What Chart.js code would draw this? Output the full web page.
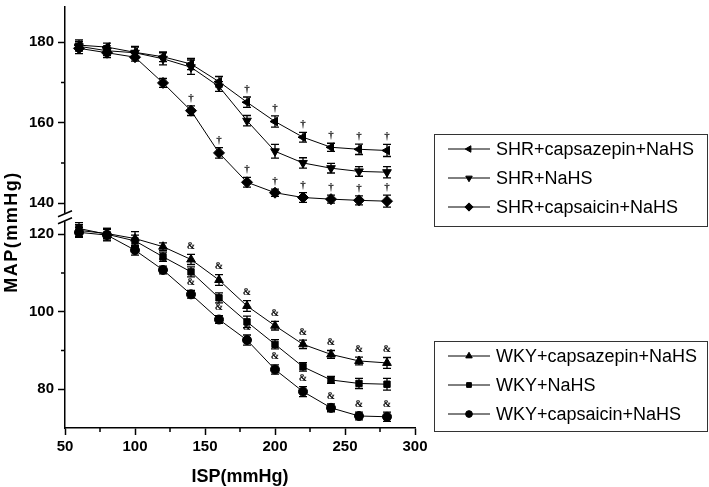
<!DOCTYPE html>
<html lang="en">
  <head>
    <meta charset="utf-8" />
    <title>MAP vs ISP</title>
    <script src="https://cdn.jsdelivr.net/npm/chart.js/dist/chart.umd.min.js"></script>
    <style>
      * {
        margin: 0;
        padding: 0;
      }
      body {
        background: #fff;
      }
      .chartBox {
        width: 709px;
        height: 487px;
      }
    </style>
  </head>
  <body>
    <div class="chartBox">
      <canvas id="myChart"></canvas>
    </div>

    <script>
      const FONT = 'Arial, "Liberation Sans", sans-serif';

      // ISP values (x axis)
      const isp = [60, 80, 100, 120, 140, 160, 180, 200, 220, 240, 260, 280];

      // SHR groups (upper panel)
      const shrCapsazepin = [179.3, 178.8, 177.5, 176.4, 174.6, 170.2, 165.1, 160.3, 156.4, 153.9, 153.4, 153.1];
      const shrCapsazepinErr = [1.3, 1.0, 1.5, 1.2, 1.4, 1.3, 1.3, 1.4, 1.2, 1.0, 1.3, 1.5];
      const shrNahs = [179.0, 177.9, 177.4, 175.9, 173.8, 169.0, 160.5, 152.9, 150.0, 148.7, 147.9, 147.7];
      const shrNahsErr = [1.2, 1.2, 1.4, 1.5, 1.8, 1.2, 1.3, 1.7, 1.3, 1.2, 1.2, 1.4];
      const shrCapsaicin = [178.5, 177.4, 176.3, 169.9, 163.0, 152.5, 145.2, 142.6, 141.4, 141.0, 140.7, 140.5];
      const shrCapsaicinErr = [1.3, 1.2, 1.0, 1.1, 1.2, 1.3, 1.2, 0.9, 1.2, 1.0, 1.1, 1.5];

      // WKY groups (lower panel)
      const wkyCapsazepin = [121.0, 120.2, 118.9, 116.8, 113.5, 108.2, 101.5, 96.4, 91.6, 89.0, 87.3, 86.8];
      const wkyCapsazepinErr = [1.5, 1.3, 1.8, 1.0, 1.3, 1.4, 1.4, 1.1, 1.1, 1.0, 1.0, 1.4];
      const wkyNahs = [121.5, 120.0, 118.3, 114.2, 110.3, 103.6, 97.4, 91.6, 85.8, 82.4, 81.5, 81.3];
      const wkyNahsErr = [1.5, 1.5, 1.5, 1.2, 1.3, 1.3, 1.5, 1.2, 1.1, 0.9, 1.3, 1.5];
      const wkyCapsaicin = [120.5, 119.8, 115.9, 110.8, 104.5, 98.0, 92.7, 85.1, 79.4, 75.2, 73.1, 72.9];
      const wkyCapsaicinErr = [1.3, 1.5, 1.3, 1.0, 1.0, 1.0, 1.3, 1.2, 1.3, 1.0, 1.0, 1.2];

      // significance marks
      const shrCapsazepinMarks = ["", "", "", "", "", "", "†", "†", "†", "†", "†", "†"];
      const shrCapsaicinMarks = ["", "", "", "", "†", "†", "†", "†", "†", "†", "†", "†"];
      const wkyCapsazepinMarks = ["", "", "", "", "&", "&", "&", "&", "&", "&", "&", "&"];
      const wkyCapsaicinMarks = ["", "", "", "&", "&", "&", "&", "&", "&", "&", "&", "&"];

      // axis ticks
      const xTicks = [50, 75, 100, 125, 150, 175, 200, 225, 250, 275, 300];
      const shrTicks = [140, 150, 160, 170, 180];
      const wkyTicks = [80, 90, 100, 110, 120];

      const toPoints = (vals) => vals.map((v, i) => ({ x: isp[i], y: v }));

      const series = (label, vals, err, marks, axis, style, rotation, radius) => ({
        label: label,
        data: toPoints(vals),
        err: err,
        marks: marks,
        yAxisID: axis,
        borderColor: "#000",
        backgroundColor: "#000",
        borderWidth: 1,
        pointStyle: style,
        rotation: rotation,
        pointRadius: radius,
        pointBorderWidth: 1,
        tension: 0,
      });

      const datasets = [
        series("SHR+capsazepin+NaHS", shrCapsazepin, shrCapsazepinErr, shrCapsazepinMarks, "yShr", "triangle", -90, 5),
        series("SHR+NaHS", shrNahs, shrNahsErr, null, "yShr", "triangle", 180, 5),
        series("SHR+capsaicin+NaHS", shrCapsaicin, shrCapsaicinErr, shrCapsaicinMarks, "yShr", "rectRot", 0, 5.5),
        series("WKY+capsazepin+NaHS", wkyCapsazepin, wkyCapsazepinErr, wkyCapsazepinMarks, "yWky", "triangle", 0, 5),
        series("WKY+NaHS", wkyNahs, wkyNahsErr, null, "yWky", "rect", 0, 4.5),
        series("WKY+capsaicin+NaHS", wkyCapsaicin, wkyCapsaicinErr, wkyCapsaicinMarks, "yWky", "circle", 0, 4.5),
      ];

      const errorBarPlugin = {
        id: "errorBars",
        beforeDatasetsDraw(chart) {
          const ctx = chart.ctx;
          ctx.save();
          ctx.strokeStyle = "#000";
          ctx.lineWidth = 1.3;
          chart.data.datasets.forEach((ds, i) => {
            const meta = chart.getDatasetMeta(i);
            const scale = chart.scales[ds.yAxisID];
            meta.data.forEach((pt, j) => {
              const v = ds.data[j].y;
              const top = scale.getPixelForValue(v + ds.err[j]);
              const bot = scale.getPixelForValue(v - ds.err[j]);
              ctx.beginPath();
              ctx.moveTo(pt.x, top);
              ctx.lineTo(pt.x, bot);
              ctx.moveTo(pt.x - 4, top);
              ctx.lineTo(pt.x + 4, top);
              ctx.moveTo(pt.x - 4, bot);
              ctx.lineTo(pt.x + 4, bot);
              ctx.stroke();
            });
          });
          ctx.restore();
        },
        afterDatasetsDraw(chart) {
          const ctx = chart.ctx;
          ctx.save();
          ctx.fillStyle = "#000";
          ctx.textAlign = "center";
          ctx.textBaseline = "middle";
          chart.data.datasets.forEach((ds, i) => {
            if (!ds.marks) return;
            const meta = chart.getDatasetMeta(i);
            const scale = chart.scales[ds.yAxisID];
            ctx.font = ds.yAxisID === "yShr" ? "bold 11px 'Liberation Serif', serif" : "bold 10px 'Liberation Serif', serif";
            meta.data.forEach((pt, j) => {
              if (!ds.marks[j]) return;
              const top = scale.getPixelForValue(ds.data[j].y + ds.err[j]);
              ctx.fillText(ds.marks[j], pt.x, top - 8);
            });
          });
          ctx.restore();
        },
      };

      const legendBoxes = [
        { x: 434, y: 134, w: 273, h: 92, items: [0, 1, 2] },
        { x: 434, y: 341, w: 273, h: 90, items: [3, 4, 5] },
      ];

      const extrasPlugin = {
        id: "extras",
        afterDraw(chart) {
          const ctx = chart.ctx;
          const xs = chart.scales.x;
          const ysh = chart.scales.yShr;
          const ywk = chart.scales.yWky;
          const area = chart.chartArea;
          const left = area.left;
          ctx.save();
          ctx.strokeStyle = "#000";
          ctx.lineWidth = 1.5;

          // minor ticks
          ctx.beginPath();
          xs.ticks.forEach((t) => {
            if (t.value % 50 !== 0) {
              const px = xs.getPixelForValue(t.value);
              ctx.moveTo(px, xs.top);
              ctx.lineTo(px, xs.top + 4);
            }
          });
          [ysh, ywk].forEach((s) => {
            s.ticks.forEach((t) => {
              if (t.value % 20 !== 0) {
                const py = s.getPixelForValue(t.value);
                ctx.moveTo(left, py);
                ctx.lineTo(left - 4, py);
              }
            });
          });
          ctx.stroke();

          // axis break
          const by = ysh.bottom;
          ctx.fillStyle = "#fff";
          ctx.fillRect(left - 3, by - 4, 6, 8);
          ctx.lineWidth = 1.5;
          ctx.beginPath();
          ctx.moveTo(left - 7, by - 0.5);
          ctx.lineTo(left + 7, by - 6.5);
          ctx.moveTo(left - 7, by + 6.5);
          ctx.lineTo(left + 7, by + 0.5);
          ctx.stroke();

          // axis titles
          ctx.fillStyle = "#000";
          ctx.font = "bold 18px " + FONT;
          ctx.textAlign = "center";
          ctx.textBaseline = "middle";
          ctx.fillText("ISP(mmHg)", (area.left + area.right) / 2, 477);
          ctx.letterSpacing = "1.5px";
          ctx.translate(12, 232);
          ctx.rotate(-Math.PI / 2);
          ctx.fillText("MAP(mmHg)", 0, 0);
          ctx.restore();

          // legends
          ctx.save();
          legendBoxes.forEach((box) => {
            ctx.strokeStyle = "#333";
            ctx.lineWidth = 1;
            ctx.strokeRect(box.x + 0.5, box.y + 0.5, box.w, box.h);
            box.items.forEach((di, k) => {
              const ds = chart.data.datasets[di];
              const cy = box.y + 15 + k * 29;
              ctx.strokeStyle = "#000";
              ctx.fillStyle = "#000";
              ctx.beginPath();
              ctx.moveTo(448, cy);
              ctx.lineTo(490, cy);
              ctx.stroke();
              Chart.helpers.drawPoint(
                ctx,
                { pointStyle: ds.pointStyle, rotation: ds.rotation, radius: ds.pointRadius * 0.75, borderWidth: 1 },
                469,
                cy
              );
              ctx.font = "18px " + FONT;
              ctx.textAlign = "left";
              ctx.textBaseline = "middle";
              ctx.fillText(ds.label, 496, cy + 1);
            });
          });
          ctx.restore();
        },
      };

      const tickFont = { family: FONT, size: 15, weight: "bold" };

      const yScale = (ticksArr, min, max, weight) => ({
        type: "linear",
        position: "left",
        stack: "map",
        stackWeight: weight,
        min: min,
        max: max,
        afterBuildTicks: (s) => {
          s.ticks = ticksArr.map((v) => ({ value: v }));
        },
        afterFit: (s) => {
          s.width = 65;
          s.paddingTop = 0;
          s.paddingBottom = 0;
        },
        border: { display: true, color: "#000", width: 1.5 },
        grid: {
          drawOnChartArea: false,
          tickLength: 7,
          tickWidth: 1.5,
          tickColor: (c) => (c.tick && c.tick.value % 20 === 0 ? "#000" : "rgba(0,0,0,0)"),
        },
        ticks: {
          color: "#000",
          font: tickFont,
          padding: 4,
          callback: (v) => (v % 20 === 0 ? v : ""),
        },
      });

      const config = {
        type: "line",
        data: { datasets: datasets },
        options: {
          responsive: true,
          maintainAspectRatio: false,
          animation: false,
          devicePixelRatio: 1,
          layout: { padding: { left: 0, right: 294, top: 0, bottom: 0 } },
          plugins: {
            legend: { display: false },
            tooltip: { enabled: false },
          },
          scales: {
            x: {
              type: "linear",
              position: "bottom",
              min: 50,
              max: 300,
              afterBuildTicks: (s) => {
                s.ticks = xTicks.map((v) => ({ value: v }));
              },
              afterFit: (s) => {
                s.height = 59;
              },
              border: { display: true, color: "#000", width: 1.5 },
              grid: {
                drawOnChartArea: false,
                tickLength: 7,
                tickWidth: 1.5,
                tickColor: (c) => (c.tick && c.tick.value % 50 === 0 ? "#000" : "rgba(0,0,0,0)"),
              },
              ticks: {
                color: "#000",
                font: tickFont,
                padding: 3,
                maxRotation: 0,
                autoSkip: false,
                callback: (v) => (v % 50 === 0 ? v : ""),
              },
            },
            // lower panel first: stacked axes are laid out bottom-up
            yWky: yScale(wkyTicks, 70, 124.4, 1),
            yShr: yScale(shrTicks, 136.5, 188.9, 1),
          },
        },
        plugins: [errorBarPlugin, extrasPlugin],
      };

      var myChart = new Chart(document.getElementById("myChart"), config);
    </script>
  </body>
</html>
